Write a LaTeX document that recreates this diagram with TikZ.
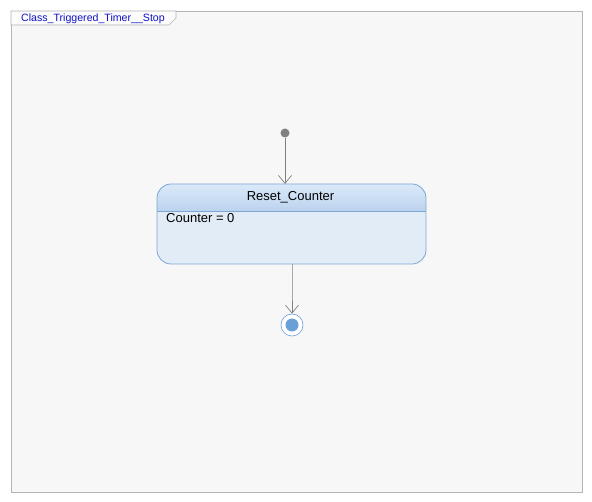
\documentclass[tikz,border=0pt]{standalone}
\usepackage{fontspec}
\setmainfont{Liberation Sans}
\usetikzlibrary{arrows.meta}
\definecolor{framebg}{HTML}{F7F7F7}
\definecolor{frameln}{HTML}{B4B4B4}
\definecolor{tabtxt}{HTML}{1010C8}
\definecolor{stln}{HTML}{7EA6D3}
\definecolor{sthdtop}{HTML}{DAE9F9}
\definecolor{sthdbot}{HTML}{BCD3EE}
\definecolor{stbody}{HTML}{E2ECF7}
\definecolor{trgray}{HTML}{808080}
\definecolor{finblue}{HTML}{6A9FD8}
\begin{document}
\begin{tikzpicture}[x=1pt,y=-1pt,
  trans/.style={draw=trgray,line width=0.8pt,-{Straight Barb[length=8pt,width=13pt,line width=0.7pt]}},
  lbl/.style={inner sep=0pt,anchor=base west,font=\fontsize{13}{15}\selectfont}]
\useasboundingbox[fill=white] (0,0) rectangle (592,502);
% frame
\draw[frameln,fill=framebg,line width=0.8pt] (11,11) rectangle (582,492);
\draw[frameln,fill=white!60!framebg,line width=0.6pt] (11,11) -- (176,11) -- (176,18) -- (169,25) -- (11,25) -- cycle;
\node[inner sep=0pt,anchor=base west,text=tabtxt,font=\fontsize{10.6}{12}\selectfont] (tab) at (21,22) {Class\_Triggered\_Timer\_\_Stop};
% initial
\node[circle,fill=trgray,inner sep=0pt,minimum size=9pt] (init) at (285,133) {};
% state
\begin{scope}
\clip[rounded corners=14pt] (157,184) rectangle (426,264);
\fill[stbody] (157,184) rectangle (426,264);
\shade[top color=sthdtop,bottom color=sthdbot] (157,184) rectangle (426,211);
\draw[stln,line width=0.8pt] (157,211) -- (426,211);
\end{scope}
\draw[stln,line width=0.8pt,rounded corners=14pt] (157,184) rectangle (426,264);
\node[inner sep=0pt,font=\fontsize{13}{15}\selectfont] (sttitle) at (290.5,197) {Reset\_Counter};
\node[lbl] (stbody) at (166,223) {Counter = 0};
% final
\node[circle,draw=finblue,fill=white,line width=0.6pt,inner sep=0pt,minimum size=22pt] (final) at (292,325) {};
\node[circle,fill=finblue,inner sep=0pt,minimum size=13pt] (finaldot) at (292,325) {};
% transitions
\coordinate (stTop) at (285,184);
\coordinate (stBot) at (292,264);
\coordinate (bend) at (292,289);
\draw[trans] (init) -- (stTop);
\draw[trans] (stBot) -- (bend) -- (final.north);
\end{tikzpicture}
\end{document}
